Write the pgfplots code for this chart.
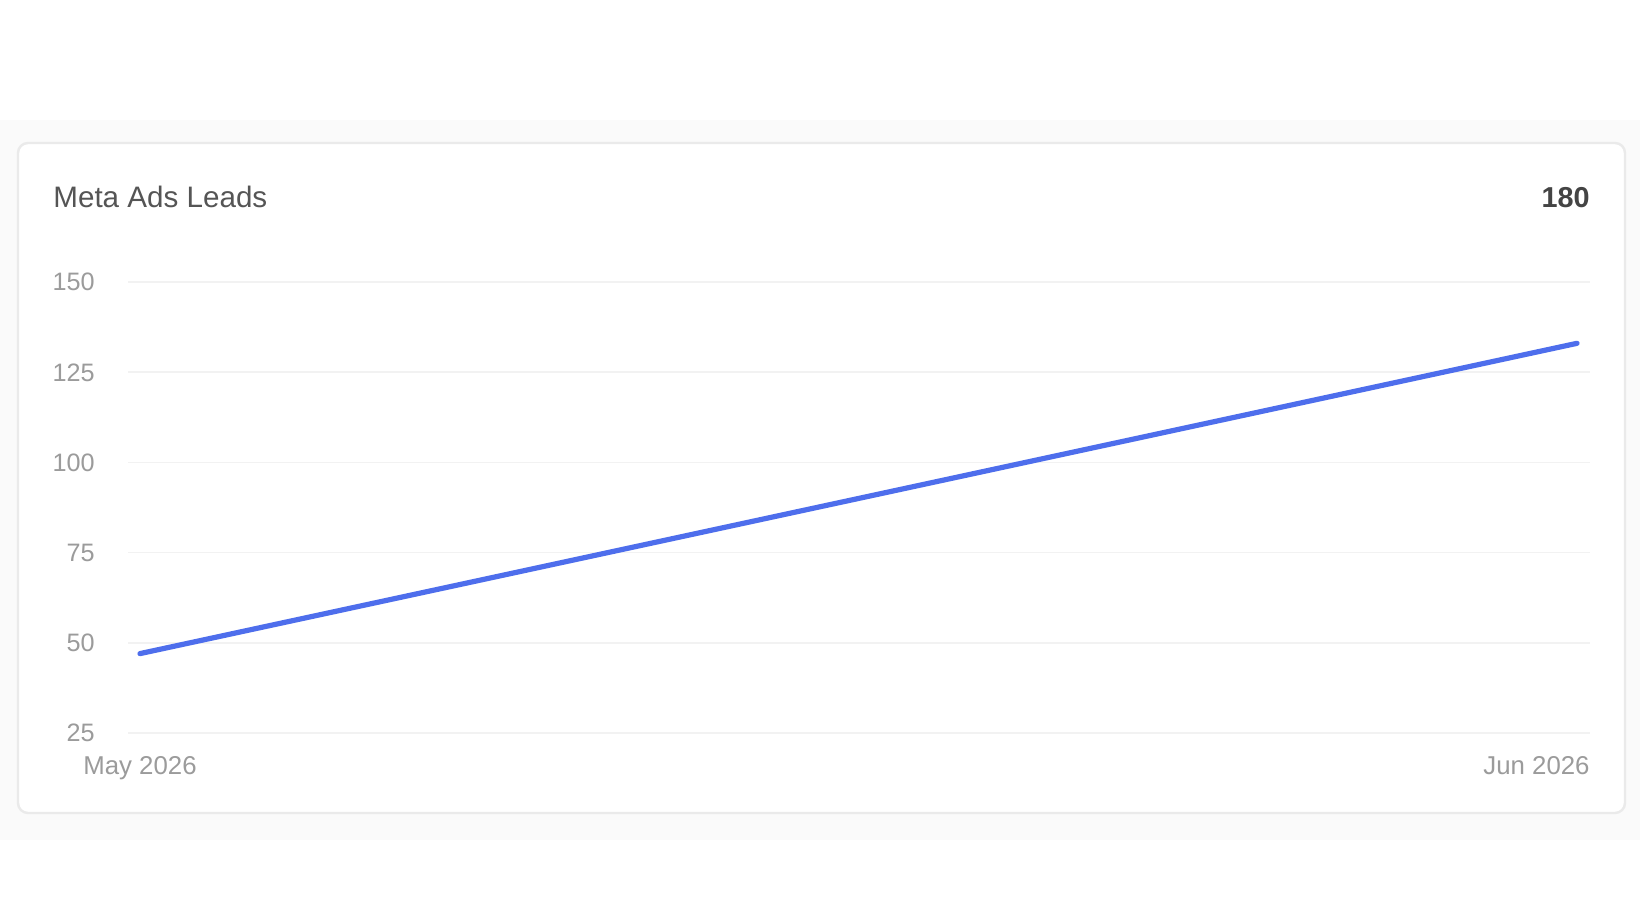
\documentclass[border=0pt]{standalone}
\usepackage{pgfplots}
\pgfplotsset{compat=1.18}
\usepackage{fontspec}
\setmainfont{Liberation Sans}
\definecolor{linec}{RGB}{78,110,236}
\definecolor{bandc}{RGB}{250,250,250}
\definecolor{cardb}{RGB}{234,234,234}
\definecolor{gridc}{RGB}{242,242,242}
\definecolor{titlec}{RGB}{85,85,85}
\definecolor{tickc}{RGB}{155,155,155}
\definecolor{totc}{RGB}{68,68,68}
\begin{document}
\begin{tikzpicture}[x=0.5pt,y=0.5pt]
\path[use as bounding box, fill=white] (0,0) rectangle (1640,924);
\fill[bandc] (0,84) rectangle (1640,804);
\draw[line width=1.2pt, draw=cardb, fill=white, rounded corners=5pt] (18,111) rectangle (1625,781);
\node[anchor=base west, inner sep=0, text=titlec, font=\fontsize{14.8}{18}\selectfont] at (53,716) {Meta Ads Leads};
\node[anchor=base east, inner sep=0, text=totc, font=\fontsize{14.4}{18}\selectfont\bfseries] at (1590,716) {180};
\begin{axis}[
  at={(64pt,95.5pt)}, anchor=south west,
  width=731pt, height=225.5pt, scale only axis,
  xmin=-0.00835, xmax=1.00905,
  ymin=25, ymax=150,
  axis line style={draw=none},
  major tick length=0pt,
  ytick={25,50,75,100,125,150},
  ymajorgrids, grid style={gridc, line width=0.8pt},
  /pgf/number format/assume math mode=true,
  yticklabel style={anchor=base east, inner sep=0, xshift=-16.5pt, yshift=-4.5pt, text=tickc, font=\fontsize{12.6}{15}\selectfont},
  xtick={0}, xticklabels={May 2026},
  extra x ticks={1}, extra x tick labels={Jun 2026},
  extra x tick style={grid=none, xticklabel style={anchor=base east, xshift=6.5pt}},
  xticklabel style={anchor=base, inner sep=0, yshift=-20.75pt, text=tickc, font=\fontsize{12.9}{15}\selectfont},
  clip=false,
]
\addplot[linec, line width=2.6pt, line cap=round, mark=none] coordinates {(0,47) (1,133)};
\end{axis}
\end{tikzpicture}
\end{document}
